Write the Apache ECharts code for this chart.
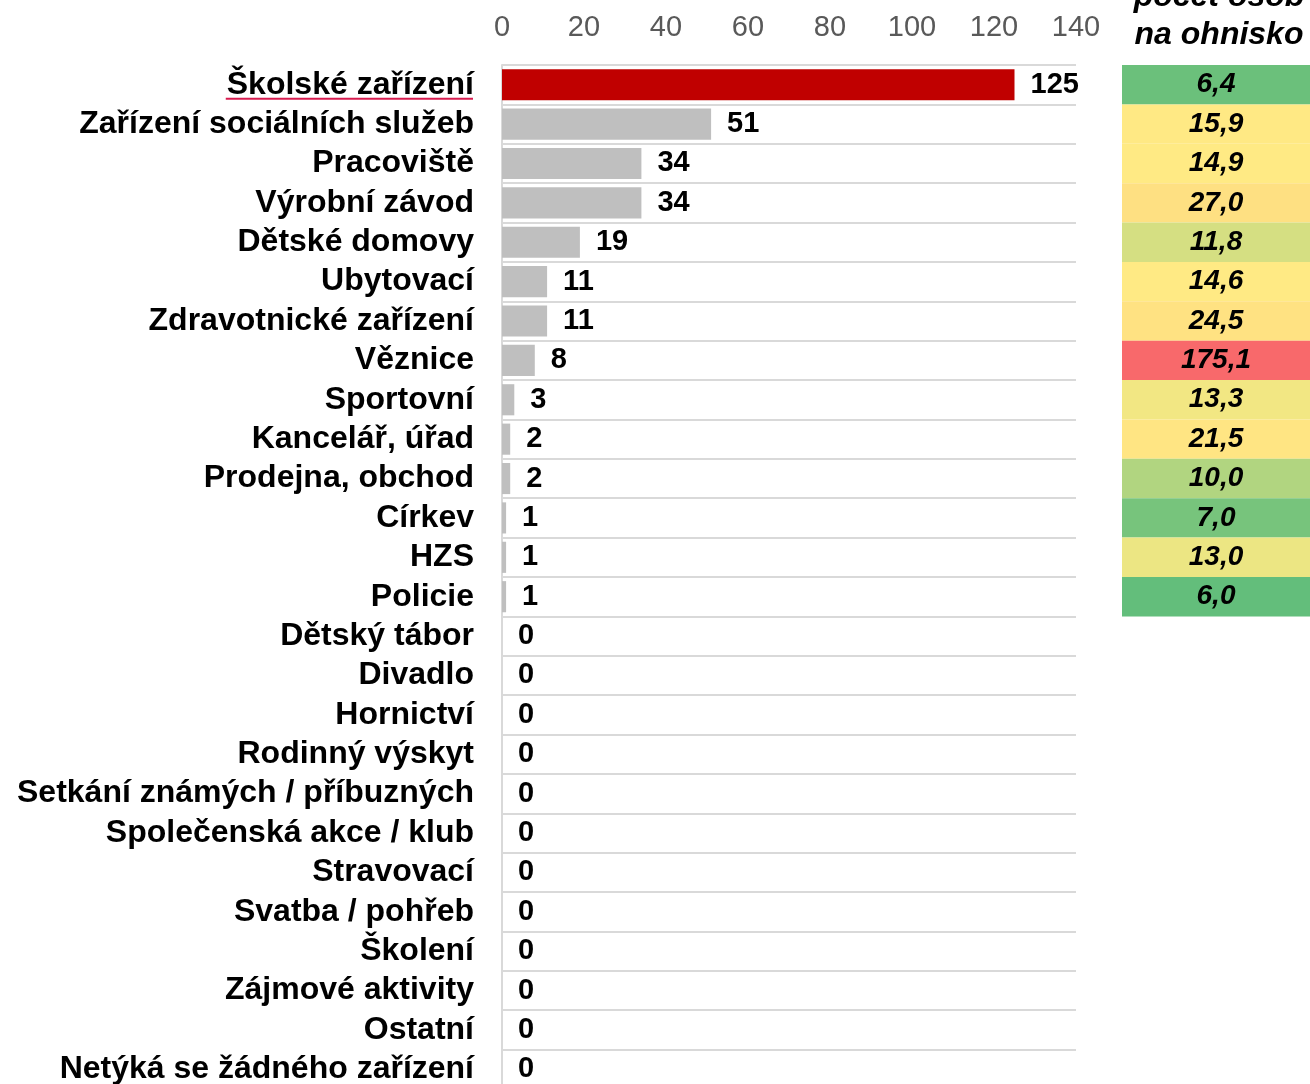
<!DOCTYPE html>
<html>
<head>
<meta charset="utf-8">
<script src="https://cdn.jsdelivr.net/npm/echarts@6/dist/echarts.min.js"></script>
<style>
  html, body { margin: 0; padding: 0; background: #fff; }
  #chart { width: 1310px; height: 1084px; }
</style>
</head>
<body>
<div id="chart"></div>
<script>
(function () {

    var categories = ['Školské zařízení', 'Zařízení sociálních služeb', 'Pracoviště', 'Výrobní závod',
        'Dětské domovy', 'Ubytovací', 'Zdravotnické zařízení', 'Věznice', 'Sportovní',
        'Kancelář, úřad', 'Prodejna, obchod', 'Církev', 'HZS', 'Policie', 'Dětský tábor',
        'Divadlo', 'Hornictví', 'Rodinný výskyt', 'Setkání známých / příbuzných',
        'Společenská akce / klub', 'Stravovací', 'Svatba / pohřeb', 'Školení',
        'Zájmové aktivity', 'Ostatní', 'Netýká se žádného zařízení'];
    var outbreaks = [125, 51, 34, 34, 19, 11, 11, 8, 3, 2, 2, 1, 1, 1,
        0, 0, 0, 0, 0, 0, 0, 0, 0, 0, 0, 0];
    var perOutbreak = [6.4, 15.9, 14.9, 27.0, 11.8, 14.6, 24.5, 175.1, 13.3, 21.5, 10.0, 7.0, 13.0, 6.0];
    var xTicks = [0, 20, 40, 60, 80, 100, 120, 140];
    var headerText = 'počet osob\nna ohnisko';

    // excel-like 3 colour scale: min green, 50th percentile yellow, max red
    function hex(c) { return [parseInt(c.substr(1, 2), 16), parseInt(c.substr(3, 2), 16), parseInt(c.substr(5, 2), 16)]; }
    function mix(a, b, t) {
        var ca = hex(a), cb = hex(b);
        return 'rgb(' + ca.map(function (v, i) { return Math.round(v + (cb[i] - v) * t); }).join(',') + ')';
    }
    var sorted = perOutbreak.slice().sort(function (a, b) { return a - b; });
    var lo = sorted[0], hi = sorted[sorted.length - 1];
    var r = 0.5 * (sorted.length - 1), k = Math.floor(r);
    var mid = sorted[k] + (sorted[k + 1] - sorted[k]) * (r - k);
    function scaleColor(v) {
        if (v <= mid) return mix('#63BE7B', '#FFEB84', (v - lo) / (mid - lo));
        return mix('#FFEB84', '#F8696B', (v - mid) / (hi - mid));
    }

    var cellData = categories.map(function (c, i) {
        if (i >= perOutbreak.length) return '-';
        return { value: 1, ratio: perOutbreak[i], itemStyle: { color: scaleColor(perOutbreak[i]) } };
    });

    var option = {
        animation: false,
        title: {
            text: headerText,
            left: 1219,
            top: -22,
            padding: 0,
            textAlign: 'center',
            textStyle: {
                fontFamily: 'Liberation Sans',
                fontSize: 32,
                fontWeight: 'bold',
                fontStyle: 'italic',
                color: '#000',
                lineHeight: 38
            }
        },
        grid: [
            { left: 502, top: 65, width: 574, height: 1024, outerBoundsMode: 'none' },
            { left: 1122, top: 65, width: 188, height: 1024, outerBoundsMode: 'none' }
        ],
        xAxis: [
            {
                gridIndex: 0,
                type: 'value',
                position: 'top',
                min: 0,
                max: 140,
                interval: 20,
                axisLine: { show: false },
                axisTick: { show: false },
                splitLine: { show: false },
                axisLabel: {
                    margin: 23,
                    color: '#595959',
                    fontFamily: 'Liberation Sans',
                    fontSize: 29,
                    formatter: function (v) { return xTicks.indexOf(v) >= 0 ? String(v) : ''; }
                }
            },
            { gridIndex: 1, type: 'value', min: 0, max: 1, show: false }
        ],
        yAxis: [
            {
                gridIndex: 0,
                type: 'category',
                data: categories,
                inverse: true,
                axisLine: { show: true, lineStyle: { color: '#d9d9d9', width: 2 } },
                axisTick: { show: false },
                splitLine: { show: true, lineStyle: { color: '#d9d9d9', width: 2 } },
                axisLabel: {
                    margin: 28,
                    color: '#000',
                    fontFamily: 'Liberation Sans',
                    fontSize: 32,
                    fontWeight: 'bold',
                    interval: 0
                }
            },
            { gridIndex: 1, type: 'category', data: categories, inverse: true, show: false }
        ],
        series: [
            {
                type: 'bar',
                xAxisIndex: 0,
                yAxisIndex: 0,
                data: outbreaks,
                barWidth: '79%',
                itemStyle: {
                    color: function (p) { return p.dataIndex === 0 ? '#c00000' : '#bfbfbf'; }
                },
                label: {
                    show: true,
                    position: 'right',
                    distance: 16,
                    color: '#000',
                    fontFamily: 'Liberation Sans',
                    fontSize: 29,
                    fontWeight: 'bold'
                }
            },
            {
                type: 'bar',
                xAxisIndex: 1,
                yAxisIndex: 1,
                data: cellData,
                barWidth: '100%',
                label: {
                    show: true,
                    position: 'inside',
                    color: '#000',
                    fontFamily: 'Liberation Sans',
                    fontSize: 28,
                    fontWeight: 'bold',
                    fontStyle: 'italic',
                    formatter: function (p) { return p.data.ratio.toFixed(1).replace('.', ','); }
                }
            }
        ]
    };

    var myChart = echarts.init(document.getElementById('chart'));
    myChart.setOption(option);

    // red underline below the first category label
    var ctx = document.createElement('canvas').getContext('2d');
    ctx.font = 'bold 32px "Liberation Sans"';
    var w = ctx.measureText(categories[0]).width;
    var yc = myChart.convertToPixel({ yAxisIndex: 0 }, categories[0]);
    var xr = 502 - 29;
    myChart.setOption({
        graphic: [{
            type: 'line',
            shape: { x1: xr - w, y1: yc + 14, x2: xr, y2: yc + 14 },
            style: { stroke: '#d81b4f', lineWidth: 2 }
        }]
    });

})();
</script>
</body>
</html>
